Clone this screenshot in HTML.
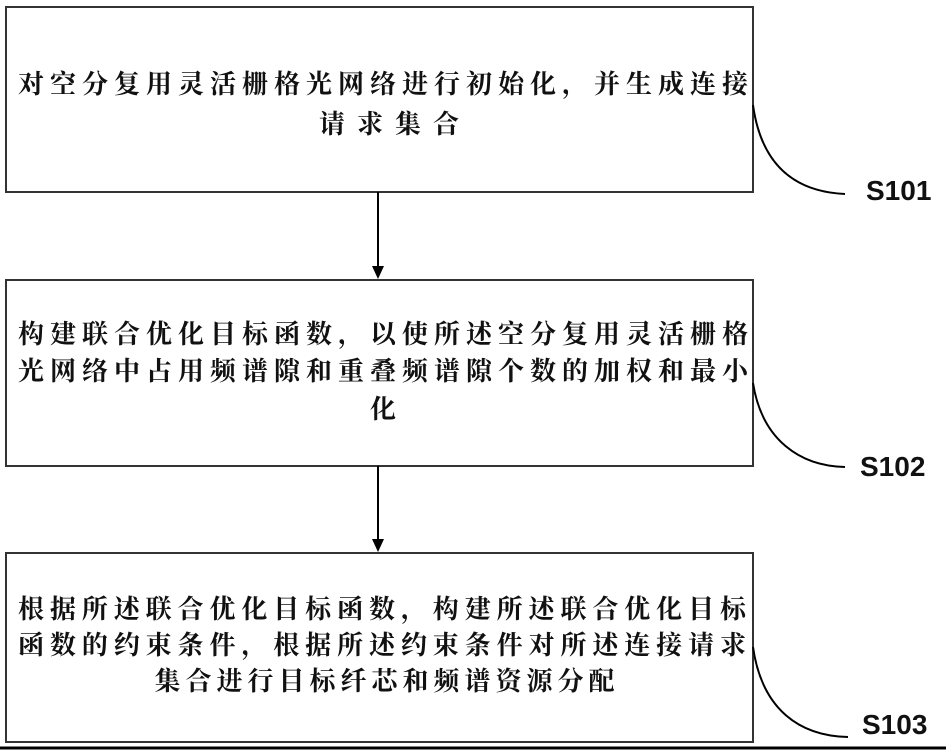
<!DOCTYPE html>
<html><head><meta charset="utf-8"><style>
body{margin:0;width:946px;height:751px;background:#fff;position:relative;overflow:hidden;font-family:"Liberation Sans","Noto Serif CJK SC","Noto Sans CJK SC",serif;}
.l{position:absolute;font-size:26px;font-weight:bold;color:#111;white-space:nowrap;text-align:justify;text-align-last:justify;font-family:"Noto Serif CJK SC","WenQuanYi Zen Hei",serif;line-height:30px}
.c{text-align:center;text-align-last:center}
.s{position:absolute;font-size:28px;font-weight:bold;font-family:"Liberation Sans",sans-serif;color:#111}
</style></head><body>
<svg width="946" height="751" style="position:absolute;left:0;top:0">
<g fill="none" stroke="#333" stroke-width="2">
<rect x="6" y="7" width="747" height="185"/>
<rect x="6" y="280" width="747" height="186"/>
<rect x="6" y="553" width="747" height="189"/>
<line x1="378" y1="192" x2="378" y2="268" stroke="#000"/>
<line x1="378" y1="466" x2="378" y2="541" stroke="#000"/>
<path d="M753 105 C762 170 800 192 845 194" stroke="#000"/>
<path d="M753 383 C762 440 800 466 845 467" stroke="#000"/>
<path d="M753 647 C762 710 800 736 848 737" stroke="#000"/>
<line x1="0" y1="748" x2="946" y2="748" stroke="#000" stroke-width="3"/>
</g>
<polygon points="372,266 384,266 378,279" fill="#000"/>
<polygon points="372,539 384,539 378,552" fill="#000"/>
</svg>
<div class="l" style="left:18px;top:68px;width:730px">对空分复用灵活栅格光网络进行初始化，并生成连接</div>
<div class="l c" style="left:18px;top:108px;width:730px;letter-spacing:12px;padding-left:12px">请求集合</div>
<div class="l" style="left:18px;top:318px;width:730px">构建联合优化目标函数，以使所述空分复用灵活栅格</div>
<div class="l" style="left:18px;top:355px;width:730px">光网络中占用频谱隙和重叠频谱隙个数的加权和最小</div>
<div class="l c" style="left:18px;top:393px;width:730px">化</div>
<div class="l" style="left:18px;top:593px;width:728px">根据所述联合优化目标函数，构建所述联合优化目标</div>
<div class="l" style="left:18px;top:629px;width:728px">函数的约束条件，根据所述约束条件对所述连接请求</div>
<div class="l c" style="left:18px;top:665px;width:728px;letter-spacing:5px;padding-left:5px">集合进行目标纤芯和频谱资源分配</div>
<div class="s" style="left:866px;top:175px">S101</div>
<div class="s" style="left:860px;top:451px">S102</div>
<div class="s" style="left:862px;top:709px">S103</div>
</body></html>
